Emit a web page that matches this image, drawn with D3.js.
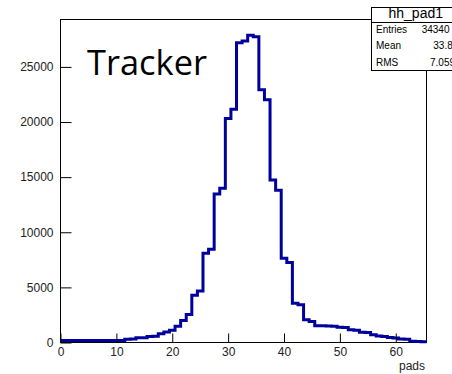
<!DOCTYPE html>
<html>
<head>
<meta charset="utf-8">
<script src="https://cdn.jsdelivr.net/npm/d3@7"></script>
<style>
  body { margin: 0; background: #fff; overflow: hidden; }
  svg { display: block; }
</style>
</head>
<body>
<svg id="chart" width="452" height="374"></svg>
<script>
// bin centres (pads) and counts
var binCenters = d3.range(0, 66);
var counts = [
  180, 180, 180, 180, 180, 180, 180, 180, 180, 180, 180, 180,
  300, 320, 420, 430, 540, 560, 800, 950, 1100, 1480,
  1990, 2530, 4290, 4680, 8100, 8460, 13470, 13990,
  20330, 21150, 27180, 27360, 27880, 27730, 22930, 22020,
  14740, 13800, 7650, 7250, 3570, 3420, 2060, 1900,
  1520, 1510, 1500, 1480, 1380, 1350, 1150, 1120,
  940, 900, 700, 580, 540, 450, 400, 320, 290, 120, 100, 60
];
var xMajor = [0, 10, 20, 30, 40, 50, 60];
var xMinor = d3.range(0, 66, 2);
var yMajor = [0, 5000, 10000, 15000, 20000, 25000];
var yMinor = d3.range(0, 29001, 1000);
var statNames = ["Entries", "Mean", "RMS"];
var statValues = ["34340", "33.8", "7.059"];

function drawHist() {
  var svg = d3.select("#chart");
  var x0 = 60.5, x1 = 426.5, y0 = 342.5, y1 = 19.5;
  var font = "'Liberation Sans', Arial, sans-serif";

  var x = d3.scaleLinear().domain([0, 65.5]).range([x0, x1]);
  var y = d3.scaleLinear().domain([0, 29300]).range([y0, y1]);

  // frame
  svg.append("rect")
    .attr("x", x0).attr("y", y1)
    .attr("width", x1 - x0).attr("height", y0 - y1)
    .attr("fill", "none").attr("stroke", "#000").attr("stroke-width", 1);

  // histogram outline
  var steps = [];
  binCenters.forEach(function(c, i) {
    var lo = Math.max(0, c - 0.5), hi = Math.min(65.5, c + 0.5);
    steps.push([lo, counts[i]]);
    steps.push([hi, counts[i]]);
  });
  var line = d3.line()
    .x(function(d) { return x(d[0]); })
    .y(function(d) { return y(d[1]); });
  svg.append("path")
    .datum(steps)
    .attr("d", line)
    .attr("fill", "none")
    .attr("stroke", "#00009c")
    .attr("stroke-width", 3);

  // x axis
  var gx = svg.append("g").attr("transform", "translate(0," + y0 + ")");
  gx.call(d3.axisBottom(x).tickValues(xMinor).tickSizeInner(-4.5).tickSizeOuter(0).tickFormat(""));
  gx.call(d3.axisBottom(x).tickValues(xMajor).tickSizeInner(-9).tickSizeOuter(0).tickPadding(5).tickFormat(d3.format("d")));
  gx.selectAll(".domain").remove();

  // y axis
  var gy = svg.append("g").attr("transform", "translate(" + x0 + ",0)");
  gy.call(d3.axisLeft(y).tickValues(yMinor).tickSizeInner(-5.5).tickSizeOuter(0).tickFormat(""));
  gy.call(d3.axisLeft(y).tickValues(yMajor).tickSizeInner(-11).tickSizeOuter(0).tickPadding(7).tickFormat(d3.format("d")));
  gy.selectAll(".domain").remove();

  svg.selectAll(".tick line").attr("stroke", "#000");
  svg.selectAll(".tick text")
    .style("font-family", font)
    .style("font-size", "12px")
    .attr("fill", "#222");

  // x title
  svg.append("text")
    .attr("x", 425).attr("y", 370)
    .attr("text-anchor", "end")
    .style("font-family", font)
    .style("font-size", "12px")
    .attr("fill", "#222")
    .text("pads");

  // Tracker label
  svg.append("text")
    .attr("x", 87).attr("y", 75)
    .style("font-family", "'Open Sans', sans-serif")
    .style("font-size", "35px")
    .attr("textLength", 120)
    .attr("lengthAdjust", "spacingAndGlyphs")
    .text("Tracker");

  // stats box
  var box = svg.append("g");
  box.append("rect")
    .attr("x", 371.5).attr("y", 7.5)
    .attr("width", 100).attr("height", 63)
    .attr("fill", "#fff").attr("stroke", "#000");
  box.append("line")
    .attr("x1", 371.5).attr("x2", 471.5)
    .attr("y1", 22.5).attr("y2", 22.5)
    .attr("stroke", "#000");
  box.append("text")
    .attr("x", 388.5).attr("y", 18)
    .style("font-family", font)
    .style("font-size", "14px")
    .text("hh_pad1");
  var rowY = [32.5, 49, 65.5];
  var valX = [421.7, 433.3, 430];
  statNames.forEach(function(n, i) {
    box.append("text")
      .attr("x", 376).attr("y", rowY[i])
      .style("font-family", font).style("font-size", "10px")
      .text(n);
    box.append("text")
      .attr("x", valX[i]).attr("y", rowY[i])
      .style("font-family", font).style("font-size", "10px")
      .text(statValues[i]);
  });
}

drawHist();
</script>
</body>
</html>
